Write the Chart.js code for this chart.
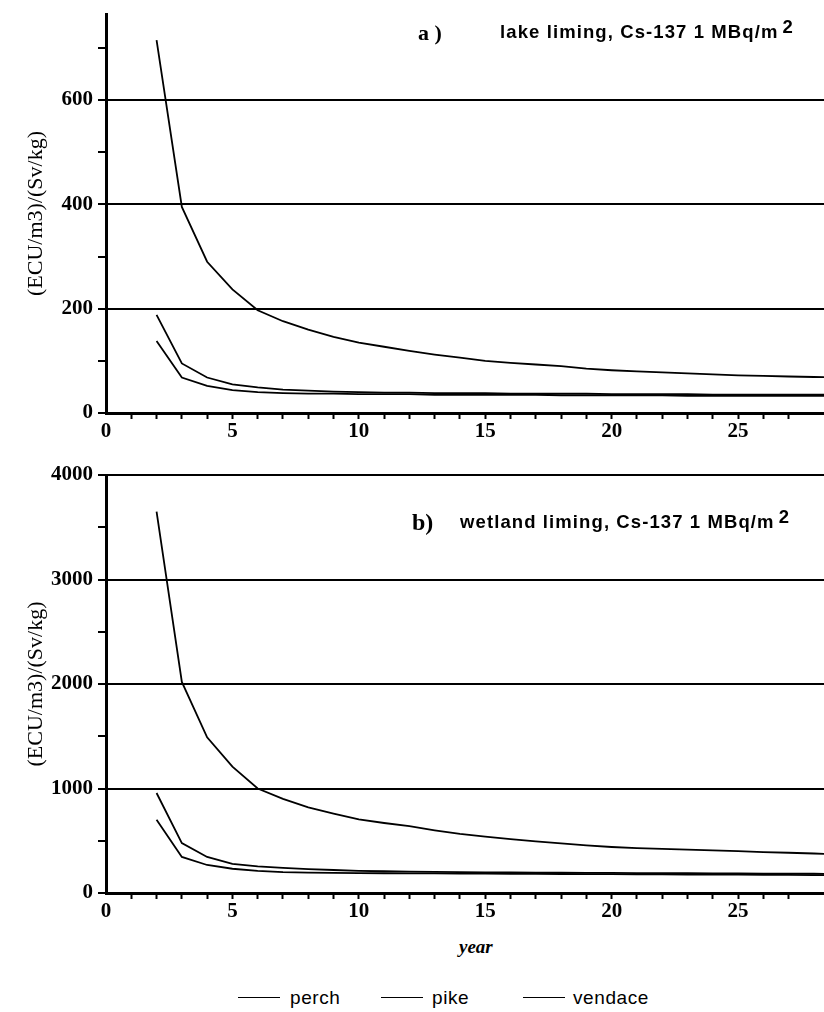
<!DOCTYPE html>
<html>
<head>
<meta charset="utf-8">
<script src="https://cdn.jsdelivr.net/npm/chart.js@4.4.1/dist/chart.umd.min.js"></script>
<style>
  body { margin: 0; background: #fff; width: 824px; height: 1012px; position: relative; overflow: hidden; }
  canvas { position: absolute; left: 0; }
  #chartA { top: 0; }
  #chartB { top: 460px; }
  .txt { position: absolute; white-space: nowrap; color: #000; line-height: 1; }
  .serif { font-family: "Liberation Serif", "DejaVu Serif", serif; font-weight: bold; }
  .sans { font-family: "Liberation Sans", Arial, sans-serif; font-weight: bold; font-size: 18.5px; letter-spacing: 1.1px; }
  .sup { position: relative; top: -5px; margin-left: 4px; }
  .legline { position: absolute; height: 0; border-top: 1.5px solid #000; width: 42px; }
  .legtxt { font-family: "Liberation Sans", Arial, sans-serif; font-size: 19px; letter-spacing: 0.6px; }
</style>
</head>
<body>
<canvas id="chartA" width="824" height="440"></canvas>
<canvas id="chartB" width="824" height="460"></canvas>

<div class="txt serif" style="left:418px; top:22px; font-size:22px;">a )</div>
<div class="txt sans" style="left:500px; top:23px;">lake liming, Cs-137 1 MBq/m<span class="sup">2</span></div>

<div class="txt serif" style="left:412px; top:510px; font-size:24px;">b)</div>
<div class="txt sans" style="left:460px; top:513px;">wetland liming, Cs-137 1 MBq/m<span class="sup">2</span></div>

<div class="txt serif" style="left:459px; top:937px; font-size:19px; font-style:italic;">year</div>

<div class="legline" style="left:238px; top:997px;"></div>
<div class="txt legtxt" style="left:290px; top:988px;">perch</div>
<div class="legline" style="left:381px; top:997px;"></div>
<div class="txt legtxt" style="left:432px; top:988px;">pike</div>
<div class="legline" style="left:523px; top:997px;"></div>
<div class="txt legtxt" style="left:573px; top:988px;">vendace</div>

<script>
//  DATA
var years = [2, 3, 4, 5, 6, 7, 8, 9, 10, 11, 12, 13, 14, 15, 16, 17, 18, 19, 20, 21, 22, 23, 24, 25, 26, 27, 28, 29];

// a) lake liming
var pikeA = [715, 395, 290, 237, 197, 176, 160, 146, 135, 127, 119, 112, 106, 100, 96, 93, 90, 85, 82, 80, 78, 76, 74, 72, 71, 70, 69, 68];
var perchA = [188, 95, 68, 55, 49, 45, 43, 41, 40, 39, 39, 38, 38, 38, 37, 37, 37, 37, 36, 36, 36, 36, 35, 35, 35, 35, 35, 35];
var vendaceA = [138, 68, 52, 44, 40, 38, 37, 37, 36, 36, 36, 35, 35, 35, 35, 35, 34, 34, 34, 34, 34, 33, 33, 33, 33, 33, 33, 33];

// b) wetland liming
var pikeB = [3650, 2020, 1490, 1210, 1000, 900, 820, 760, 705, 670, 640, 600, 565, 540, 515, 495, 475, 455, 440, 430, 422, 415, 408, 400, 392, 385, 378, 370];
var perchB = [957, 478, 345, 278, 255, 240, 228, 220, 212, 208, 205, 202, 200, 198, 196, 195, 194, 193, 192, 191, 190, 189, 188, 187, 186, 185, 184, 183];
var vendaceB = [700, 345, 268, 232, 212, 200, 195, 192, 190, 189, 188, 187, 186, 185, 184, 183, 182, 181, 180, 179, 178, 177, 176, 175, 174, 173, 172, 171];

var yTitle = "(ECU/m3)/(Sv/kg)";
var xMax = 28.4;

//  HELPERS
function points(vals) {
  var out = [];
  for (var i = 0; i < years.length; i++) {
    out.push({ x: years[i], y: vals[i] });
  }
  return out;
}

function dataset(name, vals) {
  return {
    label: name,
    data: points(vals),
    borderColor: "#000",
    borderWidth: 1.8,
    pointRadius: 0,
    tension: 0,
    fill: false,
  };
}

var tickFont = { family: "Liberation Serif", size: 21, weight: "bold" };

function makeOptions(yMax, yStep, labelStep, topPad) {
  return {
    responsive: false,
    animation: false,
    layout: { padding: { top: topPad, right: 0, left: 0, bottom: 0 } },
    plugins: { legend: { display: false }, tooltip: { enabled: false } },
    scales: {
      x: {
        type: "linear",
        min: 0,
        max: xMax,
        afterFit: function (s) {
          s.height = 27;
          s.paddingLeft = 0;
          s.paddingRight = 0;
        },
        border: { color: "#000", width: 3 },
        grid: {
          drawOnChartArea: false,
          tickLength: 6,
          tickWidth: 2,
          tickColor: function (c) {
            return Number.isInteger(c.tick.value) && c.tick.value > 0 ? "#000" : "transparent";
          },
        },
        ticks: {
          stepSize: 1,
          autoSkip: false,
          maxRotation: 0,
          padding: 0,
          color: "#000",
          font: tickFont,
          callback: function (v) { return v % 5 === 0 ? v : ""; },
        },
      },
      y: {
        min: 0,
        max: yMax,
        afterFit: function (s) {
          s.width = 106;
          s.paddingTop = 0;
          s.paddingBottom = 0;
        },
        border: { color: "#000", width: 3 },
        title: {
          display: true,
          text: yTitle,
          color: "#000",
          font: { family: "Liberation Serif", size: 22 },
          padding: { top: 23, bottom: 0 },
        },
        grid: {
          drawOnChartArea: true,
          tickLength: 8,
          tickWidth: 2,
          lineWidth: 2,
          color: function (c) {
            var v = c.tick.value;
            return v > 0 && v % labelStep === 0 ? "#000" : "transparent";
          },
          tickColor: function (c) {
            return c.tick.value % yStep === 0 ? "#000" : "transparent";
          },
        },
        ticks: {
          stepSize: yStep,
          autoSkip: false,
          padding: 5,
          color: "#000",
          font: tickFont,
          callback: function (v) { return v % labelStep === 0 ? v : ""; },
        },
      },
    },
  };
}

//  CHARTS
new Chart(document.getElementById("chartA"), {
  type: "line",
  data: {
    datasets: [
      dataset("pike", pikeA),
      dataset("perch", perchA),
      dataset("vendace", vendaceA),
    ],
  },
  options: makeOptions(765, 100, 200, 14),
});

new Chart(document.getElementById("chartB"), {
  type: "line",
  data: {
    datasets: [
      dataset("pike", pikeB),
      dataset("perch", perchB),
      dataset("vendace", vendaceB),
    ],
  },
  options: makeOptions(4000, 500, 1000, 15),
});
</script>
</body>
</html>
